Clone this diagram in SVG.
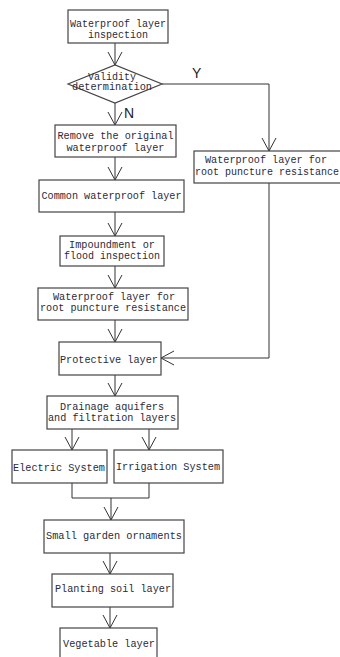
<svg xmlns="http://www.w3.org/2000/svg" width="340" height="657" viewBox="0 0 340 657">
<defs>
<marker id="ah" markerUnits="userSpaceOnUse" markerWidth="16" markerHeight="16" viewBox="-14 -8 16 16" refX="0" refY="0" orient="auto">
<path d="M-13,-7 L0,0 L-13,7" fill="none" stroke="#333" stroke-width="1"/>
</marker>
<style>
.b{fill:#fff;stroke:#444;stroke-width:1.2}
.t{font-family:"Liberation Mono",monospace;font-size:11px;fill:#2b2b3a;text-anchor:middle}
.c{fill:none;stroke:#333;stroke-width:1}
.l{font-family:"Liberation Sans",Arial,sans-serif;font-size:14px;fill:#222}
</style>
</defs>
<rect width="340" height="657" fill="#fff"/>
<g id="connectors">
<path class="c" d="M115,43 V65" marker-end="url(#ah)"/>
<path class="c" d="M162,84 H269 V151" marker-end="url(#ah)"/>
<path class="c" d="M115,103 V125" marker-end="url(#ah)"/>
<path class="c" d="M115,157 V180" marker-end="url(#ah)"/>
<path class="c" d="M115,212 V236" marker-end="url(#ah)"/>
<path class="c" d="M115,266 V288" marker-end="url(#ah)"/>
<path class="c" d="M115,320 V342" marker-end="url(#ah)"/>
<path class="c" d="M269,183 V358 H161" marker-end="url(#ah)"/>
<path class="c" d="M115,375 V396" marker-end="url(#ah)"/>
<path class="c" d="M72,429 V450" marker-end="url(#ah)"/>
<path class="c" d="M149,429 V450" marker-end="url(#ah)"/>
<path class="c" d="M72,483 V498 H149 V483"/>
<path class="c" d="M111,498 V520" marker-end="url(#ah)"/>
<path class="c" d="M110,553 V574" marker-end="url(#ah)"/>
<path class="c" d="M110,607 V628" marker-end="url(#ah)"/>
<text class="l" x="192" y="78">Y</text>
<text class="l" x="124" y="118">N</text>
</g>
<g id="n1"><rect class="b" x="68" y="10" width="100" height="33"/>
<text class="t" x="118" y="27" textLength="96" lengthAdjust="spacingAndGlyphs">Waterproof layer</text>
<text class="t" x="118" y="38" textLength="60" lengthAdjust="spacingAndGlyphs">inspection</text></g>
<g id="n2"><polygon class="b" points="68,84 115,65 162,84 115,103"/>
<text class="t" x="112" y="80" textLength="48" lengthAdjust="spacingAndGlyphs">Validity</text>
<text class="t" x="112" y="90" textLength="80" lengthAdjust="spacingAndGlyphs">determination</text></g>
<g id="n3"><rect class="b" x="55" y="125" width="121" height="32"/>
<text class="t" x="115.5" y="139" textLength="116" lengthAdjust="spacingAndGlyphs">Remove the original</text>
<text class="t" x="115.5" y="151" textLength="98" lengthAdjust="spacingAndGlyphs">waterproof layer</text></g>
<g id="n4"><rect class="b" x="194" y="151" width="150" height="32"/>
<text class="t" x="266" y="163" textLength="122" lengthAdjust="spacingAndGlyphs">Waterproof layer for</text>
<text class="t" x="267" y="175" textLength="144" lengthAdjust="spacingAndGlyphs">root puncture resistance</text></g>
<g id="n5"><rect class="b" x="39" y="180" width="145" height="32"/>
<text class="t" x="111.5" y="199" textLength="140" lengthAdjust="spacingAndGlyphs">Common waterproof layer</text></g>
<g id="n6"><rect class="b" x="60" y="236" width="104" height="30"/>
<text class="t" x="112" y="248" textLength="86" lengthAdjust="spacingAndGlyphs">Impoundment or</text>
<text class="t" x="112" y="259" textLength="96" lengthAdjust="spacingAndGlyphs">flood inspection</text></g>
<g id="n7"><rect class="b" x="38" y="288" width="150" height="32"/>
<text class="t" x="114" y="300" textLength="122" lengthAdjust="spacingAndGlyphs">Waterproof layer for</text>
<text class="t" x="113" y="311" textLength="146" lengthAdjust="spacingAndGlyphs">root puncture resistance</text></g>
<g id="n8"><rect class="b" x="59" y="342" width="102" height="33"/>
<text class="t" x="109" y="363" textLength="98" lengthAdjust="spacingAndGlyphs">Protective layer</text></g>
<g id="n9"><rect class="b" x="47" y="396" width="131" height="33"/>
<text class="t" x="112" y="410" textLength="104" lengthAdjust="spacingAndGlyphs">Drainage aquifers</text>
<text class="t" x="112" y="421" textLength="128" lengthAdjust="spacingAndGlyphs">and filtration layers</text></g>
<g id="n10"><rect class="b" x="12" y="450" width="95" height="33"/>
<text class="t" x="59" y="471" textLength="92" lengthAdjust="spacingAndGlyphs">Electric System</text></g>
<g id="n11"><rect class="b" x="114" y="450" width="109" height="33"/>
<text class="t" x="168" y="470" textLength="104" lengthAdjust="spacingAndGlyphs">Irrigation System</text></g>
<g id="n12"><rect class="b" x="44" y="520" width="140" height="33"/>
<text class="t" x="114" y="539" textLength="136" lengthAdjust="spacingAndGlyphs">Small garden ornaments</text></g>
<g id="n13"><rect class="b" x="52" y="574" width="121" height="33"/>
<text class="t" x="113" y="592" textLength="116" lengthAdjust="spacingAndGlyphs">Planting soil layer</text></g>
<g id="n14"><rect class="b" x="60" y="628" width="97" height="40"/>
<text class="t" x="109" y="647" textLength="92" lengthAdjust="spacingAndGlyphs">Vegetable layer</text></g>
</svg>
